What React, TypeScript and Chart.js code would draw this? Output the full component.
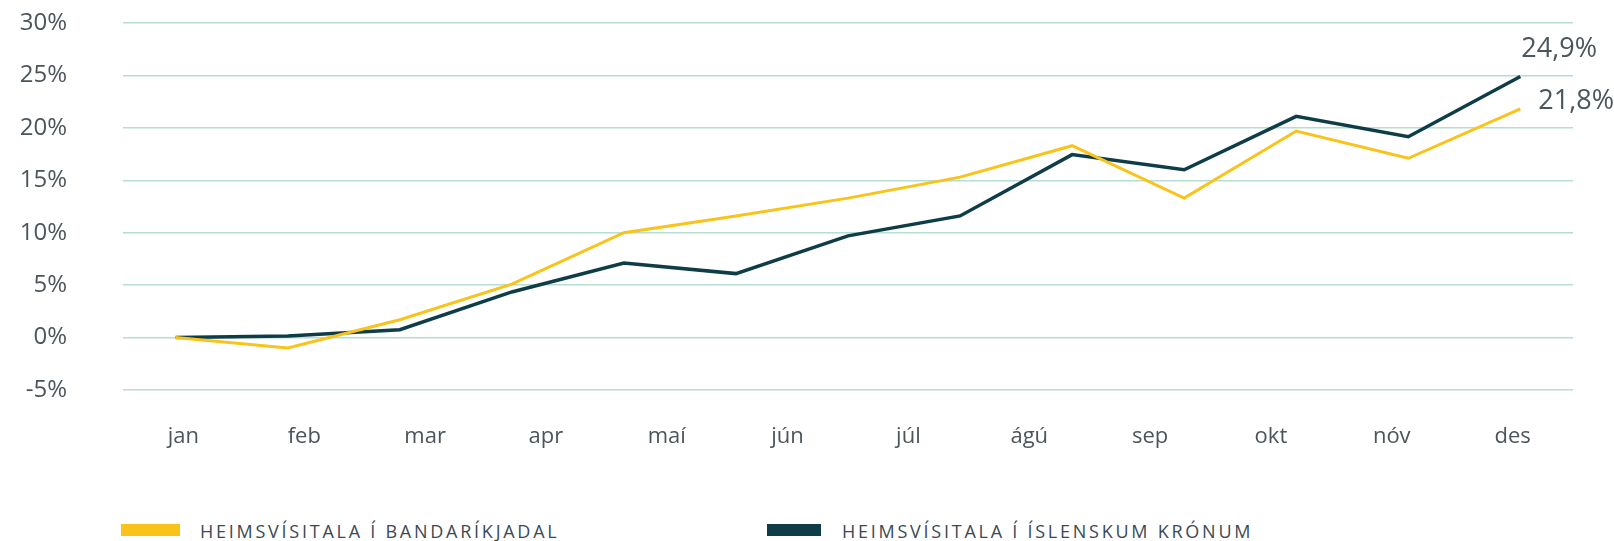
import React, { useEffect, useRef } from "react";
import { Chart, registerables } from "chart.js";

Chart.register(...registerables);

const monthLabels = ["jan", "feb", "mar", "apr", "maí", "jún", "júl", "ágú", "sep", "okt", "nóv", "des"];
const usdSeries = [0, -1.0, 1.7, 5.1, 10.0, 11.6, 13.3, 15.3, 18.3, 13.3, 19.7, 17.1, 21.8];
const iskSeries = [0, 0.15, 0.75, 4.35, 7.1, 6.1, 9.7, 11.6, 17.45, 16.0, 21.1, 19.15, 24.9];
const seriesNames = ["HEIMSVÍSITALA Í BANDARÍKJADAL", "HEIMSVÍSITALA Í ÍSLENSKUM KRÓNUM"];
const seriesColors = ["#F9C31A", "#0E3D48"];
const yTicks = [-5, 0, 5, 10, 15, 20, 25, 30];

const FONT = "'Open Sans', 'Noto Sans', sans-serif";
const TEXT_COLOR = "#4B555C";
const GRID_COLOR = "#B6DDD2";

const AREA_TOP = 23;
const AREA_BOTTOM = 390;
const CANVAS_H = 470;

const fmt = (v: number) => v.toFixed(1).replace(".", ",") + "%";

const endLabels = {
  id: "endLabels",
  afterDatasetsDraw(chart: any) {
    const ctx = chart.ctx;
    const offsets = [
      { dx: 18, dy: -8 },
      { dx: 1, dy: -27 },
    ];
    ctx.save();
    ctx.font = `27px ${FONT}`;
    ctx.fillStyle = TEXT_COLOR;
    ctx.textAlign = "left";
    ctx.textBaseline = "middle";
    chart.data.datasets.forEach((ds: any, i: number) => {
      const meta = chart.getDatasetMeta(i);
      const pt = meta.data[meta.data.length - 1];
      const v = ds.data[ds.data.length - 1].y;
      ctx.fillText(fmt(v), pt.x + offsets[i].dx, pt.y + offsets[i].dy);
    });
    ctx.restore();
  },
};

export default function App() {
  const ref = useRef<HTMLCanvasElement | null>(null);

  useEffect(() => {
    document.body.style.margin = "0";
    const canvas = ref.current!;
    const toPts = (arr: number[]) => arr.map((y, i) => ({ x: i, y }));
    const chart: any = new Chart(canvas, {
      type: "line",
      data: {
        labels: monthLabels,
        datasets: [
          {
            label: seriesNames[0],
            data: toPts(usdSeries),
            xAxisID: "x2",
            borderColor: seriesColors[0],
            backgroundColor: seriesColors[0],
            borderWidth: 3,
            pointRadius: 0,
            tension: 0,
          },
          {
            label: seriesNames[1],
            data: toPts(iskSeries),
            xAxisID: "x2",
            borderColor: seriesColors[1],
            backgroundColor: seriesColors[1],
            borderWidth: 3.5,
            pointRadius: 0,
            tension: 0,
          },
        ],
      },
      options: {
        animation: false,
        responsive: false,
        devicePixelRatio: 1,
        layout: { padding: { top: AREA_TOP, right: 41, bottom: 0, left: 0 } },
        plugins: { legend: { display: false }, tooltip: { enabled: false } },
        scales: {
          x: {
            type: "category",
            offset: true,
            grid: { display: false },
            border: { display: false },
            afterFit: (s: any) => {
              s.height = CANVAS_H - AREA_BOTTOM;
            },
            ticks: {
              autoSkip: false,
              maxRotation: 0,
              padding: 26,
              color: TEXT_COLOR,
              font: { family: FONT, size: 22 },
            },
          },
          x2: {
            type: "linear",
            display: false,
            min: -0.47,
            max: 12.47,
          },
          y: {
            min: -5,
            max: 30,
            afterFit: (s: any) => {
              s.width = 123;
            },
            afterBuildTicks: (s: any) => {
              s.ticks = yTicks.map((v) => ({ value: v }));
            },
            grid: {
              color: GRID_COLOR,
              lineWidth: 1.5,
              drawTicks: true,
              tickLength: 56,
              tickColor: "rgba(0,0,0,0)",
            },
            border: { display: false },
            ticks: {
              padding: 0,
              color: TEXT_COLOR,
              font: { family: FONT, size: 24 },
              callback: (v: any) => `${v}%`,
            },
          },
        },
      },
      plugins: [endLabels],
    } as any);

    for (let k = 0; k < 3; k++) {
      const dt = chart.chartArea.top - AREA_TOP;
      if (Math.abs(dt) < 0.5) break;
      const pad = chart.options.layout.padding;
      pad.top = Math.max(0, pad.top - dt);
      chart.update();
    }

    return () => chart.destroy();
  }, []);

  const legendText: React.CSSProperties = {
    position: "absolute",
    top: 519,
    fontFamily: FONT,
    fontSize: 18,
    letterSpacing: "2.75px",
    color: "#3B4A54",
    whiteSpace: "nowrap",
    lineHeight: "24px",
  };

  return (
    <div style={{ position: "relative", width: 1614, height: 541, background: "#fff", overflow: "hidden" }}>
      <canvas ref={ref} width={1614} height={CANVAS_H} style={{ position: "absolute", left: 0, top: 0 }} />
      <div style={{ position: "absolute", left: 121, top: 524, width: 59, height: 12, background: seriesColors[0] }} />
      <div style={{ ...legendText, left: 200 }}>{seriesNames[0]}</div>
      <div style={{ position: "absolute", left: 767, top: 524, width: 54, height: 12, background: seriesColors[1] }} />
      <div style={{ ...legendText, left: 842 }}>{seriesNames[1]}</div>
    </div>
  );
}
